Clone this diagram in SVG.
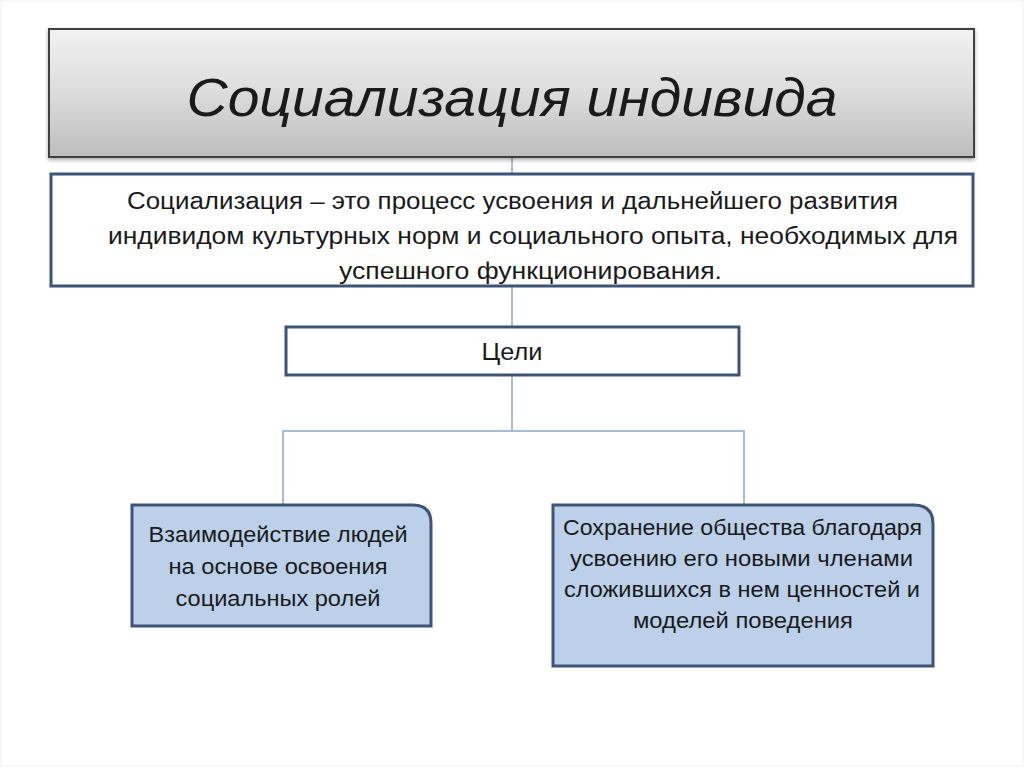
<svg xmlns="http://www.w3.org/2000/svg" width="1024" height="767" viewBox="0 0 1024 767">
<defs>
<linearGradient id="gTitle" x1="0" y1="0" x2="0" y2="1">
<stop offset="0" stop-color="#f2f2f2"/>
<stop offset="0.5" stop-color="#dcdcdc"/>
<stop offset="1" stop-color="#bdbdbd"/>
</linearGradient>
<filter id="sh" x="-5%" y="-10%" width="110%" height="130%">
<feGaussianBlur in="SourceAlpha" stdDeviation="2"/>
<feOffset dx="0" dy="2" result="b"/>
<feComponentTransfer><feFuncA type="linear" slope="0.35"/></feComponentTransfer>
<feMerge><feMergeNode/><feMergeNode in="SourceGraphic"/></feMerge>
</filter>
</defs>
<style>
.t{font-family:"Liberation Sans",Arial,sans-serif;fill:#1a1a1a;text-anchor:middle}
.box{fill:#ffffff;stroke:#3d5477;stroke-width:3}
.goal{fill:#bcd0ea;stroke:#3d5477;stroke-width:3}
.conn{fill:none;stroke:#8ba8c9;stroke-width:1.5}
</style>
<rect x="0" y="0" width="1024" height="767" fill="#ffffff"/>
<rect x="1" y="1" width="1022" height="765" fill="none" stroke="#f0f0f0" stroke-width="1"/>
<g id="connectors">
<line class="conn" x1="512" y1="157" x2="512" y2="173"/>
<line class="conn" x1="512" y1="286" x2="512" y2="327"/>
<path class="conn" d="M512 376 V431 M283 504 V431 H744 V504"/>
</g>
<g id="title">
<rect x="49" y="29" width="925" height="128" fill="url(#gTitle)" stroke="#3f3f3f" stroke-width="2" filter="url(#sh)"/>
<text class="t" x="512" y="116" font-size="54" font-style="italic" textLength="651" lengthAdjust="spacingAndGlyphs">Социализация индивида</text>
</g>
<g id="definition">
<rect class="box" x="51" y="174" width="922" height="112"/>
<text class="t" x="512.5" y="209" font-size="23.5" textLength="771" lengthAdjust="spacingAndGlyphs">Социализация – это процесс усвоения и дальнейшего развития</text>
<text class="t" x="533" y="244" font-size="23.5" textLength="850" lengthAdjust="spacingAndGlyphs">индивидом культурных норм и социального опыта, необходимых для</text>
<text class="t" x="530.5" y="279" font-size="23.5" textLength="383" lengthAdjust="spacingAndGlyphs">успешного  функционирования.</text>
</g>
<g id="goals">
<rect class="box" x="286" y="327" width="453" height="48"/>
<text class="t" x="512" y="360" font-size="24" textLength="61" lengthAdjust="spacingAndGlyphs">Цели</text>
</g>
<g id="goal1">
<path class="goal" d="M132 505 H413 Q431 505 431 523 V626 H132 Z"/>
<text class="t" x="278" y="542" font-size="22.5" textLength="259" lengthAdjust="spacingAndGlyphs">Взаимодействие людей</text>
<text class="t" x="278" y="574" font-size="22.5" textLength="219" lengthAdjust="spacingAndGlyphs">на основе освоения</text>
<text class="t" x="278" y="606" font-size="22.5" textLength="205" lengthAdjust="spacingAndGlyphs">социальных ролей</text>
</g>
<g id="goal2">
<path class="goal" d="M553 505 H914 Q933 505 933 524 V666 H553 Z"/>
<text class="t" x="742.5" y="535" font-size="22.5" textLength="359" lengthAdjust="spacingAndGlyphs">Сохранение общества благодаря</text>
<text class="t" x="741.5" y="566" font-size="22.5" textLength="343" lengthAdjust="spacingAndGlyphs">усвоению его новыми членами</text>
<text class="t" x="742" y="597" font-size="22.5" textLength="356" lengthAdjust="spacingAndGlyphs">сложившихся в нем ценностей и</text>
<text class="t" x="743" y="628" font-size="22.5" textLength="220" lengthAdjust="spacingAndGlyphs">моделей поведения</text>
</g>
</svg>
